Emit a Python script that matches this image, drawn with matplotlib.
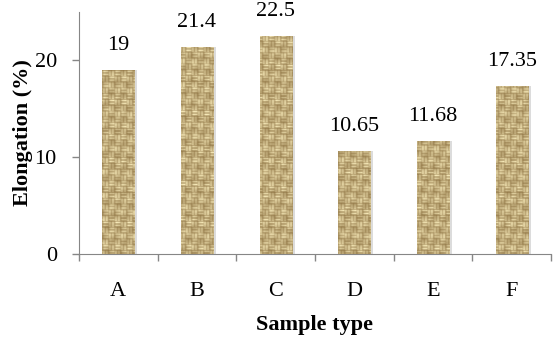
import matplotlib
matplotlib.use("Agg")
import matplotlib.pyplot as plt
import numpy as np

# data
samples = ["A", "B", "C", "D", "E", "F"]
elongation = [19, 21.4, 22.5, 10.65, 11.68, 17.35]
labels = ["19", "21.4", "22.5", "10.65", "11.68", "17.35"]

plt.rcParams['font.family'] = ['Liberation Serif', 'DejaVu Serif']

fig = plt.figure(figsize=(5.59, 3.49), dpi=100)
ax = fig.add_axes([0.1413, 0.2722, 0.8444, 0.6934])

x = np.arange(len(samples))
# soft shadow on the right side of the bars
ax.bar(x + 0.035, elongation, width=0.41, color="#dcdcdc", linewidth=0, zorder=1)
bars = ax.bar(x, elongation, width=0.41, color="#c9ad73", linewidth=0, zorder=2)

# burlap-like basket weave texture, clipped to each bar
h, w = 250, 480
ii, jj = np.mgrid[0:h, 0:w]
c = 6
bi, bj = ii // c, jj // c
horiz = (bi + bj) % 2 == 0
s = 3  # strand width
pos_i = (ii % s + 0.5) / s
pos_j = (jj % s + 0.5) / s
shade = np.where(horiz, np.sin(np.pi * pos_i), np.sin(np.pi * pos_j))
# break strands a bit along their length
along = np.where(horiz, jj % c, ii % c)
shade = np.where(along == 0, shade * 0.45, shade)
shade = 0.3 + 0.7 * shade
shade *= 0.8 + 0.2 * np.cos(ii * 0.37 + jj * 0.21) * np.sin(jj * 0.29 - ii * 0.13)
dark = np.array([0.44, 0.32, 0.13])
light = np.array([0.98, 0.93, 0.74])
tex = np.clip(dark + (light - dark) * shade[..., None], 0, 1)
for b in bars:
    im = ax.imshow(tex, extent=(-0.5, 5.5, 0, 25), aspect="auto",
                   interpolation="bilinear", zorder=3)
    im.set_clip_path(b)

# labels above bars
for xi, v, t in zip(x, elongation, labels):
    ax.annotate(t, (xi, v), xytext=(0, 11), textcoords="offset points",
                ha="center", va="bottom", fontsize=16)

ax.set_xlim(-0.5, 5.5)
ax.set_ylim(0, 25)
ax.set_yticks([0, 10, 20])
ax.set_xticks(x)
ax.set_xticklabels(samples)
ax.set_xticks(np.arange(-0.5, 6, 1), minor=True)
ax.tick_params(axis="x", which="major", length=0, pad=20, labelsize=16)
ax.tick_params(axis="x", which="minor", length=5, color="#868686", width=1)
ax.tick_params(axis="y", length=5, color="#868686", width=1, pad=11, labelsize=16)

for sp in ["top", "right"]:
    ax.spines[sp].set_visible(False)
for sp in ["left", "bottom"]:
    ax.spines[sp].set_color("#868686")

ax.set_xlabel("Sample type", fontsize=16, fontweight="bold", labelpad=10)
ax.set_ylabel("Elongation (%)", fontsize=16, fontweight="bold", labelpad=1)

fig.savefig("out.png", dpi=100)
